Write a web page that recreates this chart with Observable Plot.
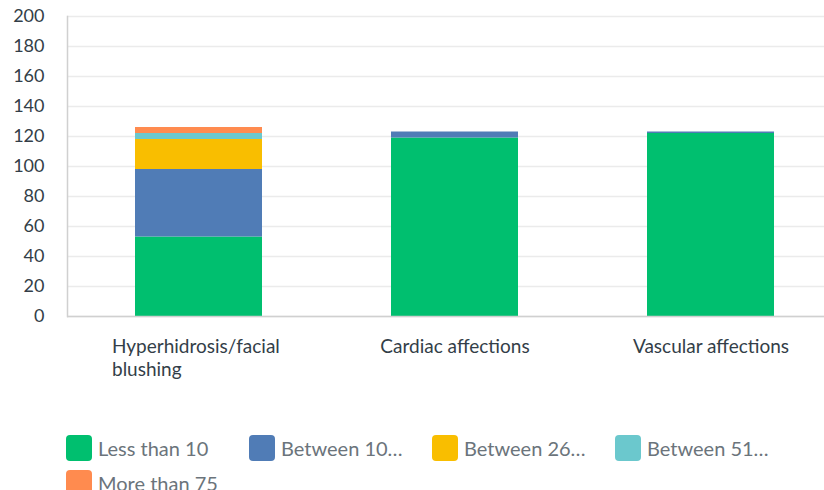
<!DOCTYPE html>
<html>
<head>
<meta charset="utf-8">
<script src="https://cdn.jsdelivr.net/npm/d3@7"></script>
<script src="https://cdn.jsdelivr.net/npm/@observablehq/plot@0.6"></script>
<style>
  html, body { margin: 0; padding: 0; background: #fff; overflow: hidden; }
  body { font-family: Lato, "Open Sans", sans-serif; width: 824px; }
  #legend { margin-top: 35px; padding-left: 66px; display: flex; flex-wrap: wrap; row-gap: 9px; }
  .item { display: flex; align-items: center; width: 183px; height: 26px; font-size: 20px; color: #6b747b; }
  .sw { width: 26px; height: 26px; border-radius: 4px; margin-right: 6px; flex: none; }
</style>
</head>
<body>
<div id="chart"></div>
<div id="legend"></div>
<script>
const categories = ["Hyperhidrosis/facial blushing", "Cardiac affections", "Vascular affections"];
const categoryLabels = ["Hyperhidrosis/facial\nblushing", "Cardiac affections", "Vascular affections"];
const seriesNames = ["Less than 10", "Between 10...", "Between 26...", "Between 51...", "More than 75"];
const seriesColors = ["#00bf6f", "#507cb6", "#f9be00", "#6bc8cd", "#ff8b4f"];
const lessThan10 = [53, 119, 122];
const between10 = [45, 4, 1];
const between26 = [20, 0, 0];
const between51 = [4, 0, 0];
const moreThan75 = [4, 0, 0];
const yTicks = [0, 20, 40, 60, 80, 100, 120, 140, 160, 180, 200];

const seriesValues = [lessThan10, between10, between26, between51, moreThan75];
const rows = [];
seriesNames.forEach((s, si) => categories.forEach((c, ci) => rows.push({category: c, series: s, value: seriesValues[si][ci]})));
const labelRows = categories.map((c, i) => ({category: c, label: categoryLabels[i]}));

const chart = Plot.plot({
  width: 824,
  height: 400,
  marginLeft: 67,
  marginRight: 0,
  marginTop: 16,
  marginBottom: 84,
  style: {fontFamily: "Lato, 'Open Sans', sans-serif", fontSize: "18px", color: "#333e48", background: "#fff", overflow: "visible"},
  x: {domain: categories, range: [70, 839], paddingInner: 0.505, paddingOuter: 0.25, axis: null},
  y: {domain: [0, 200], ticks: yTicks, label: null},
  color: {domain: seriesNames, range: seriesColors},
  marks: [
    Plot.ruleY(yTicks, {stroke: "#ebebeb", strokeWidth: 1.5}),
    Plot.axisY({ticks: yTicks, tickSize: 0, tickPadding: 23, label: null, fontSize: 18, fill: "#333e48"}),
    Plot.barY(rows, {x: "category", y: "value", fill: "series", order: seriesNames}),
    Plot.frame({anchor: "left", stroke: "#d0d0d0", strokeWidth: 1.5}),
    Plot.ruleY([0], {stroke: "#d0d0d0", strokeWidth: 1.5}),
    Plot.text(labelRows.filter(d => d.label.includes("\n")), {x: "category", text: "label", frameAnchor: "bottom", lineAnchor: "top", dy: 21, dx: -87, textAnchor: "start", lineHeight: 1.17, fontSize: 19, fill: "#333e48"}),
    Plot.text(labelRows.filter(d => !d.label.includes("\n")), {x: "category", text: "label", frameAnchor: "bottom", lineAnchor: "top", dy: 21, textAnchor: "middle", lineHeight: 1.17, fontSize: 19, fill: "#333e48"})
  ]
});
document.getElementById("chart").appendChild(chart);

const legend = document.getElementById("legend");
seriesNames.forEach((s, i) => {
  const item = document.createElement("div");
  item.className = "item";
  const sw = document.createElement("span");
  sw.className = "sw";
  sw.style.background = seriesColors[i];
  const t = document.createElement("span");
  t.textContent = s.replace("...", "\u2026");
  item.appendChild(sw);
  item.appendChild(t);
  legend.appendChild(item);
});
</script>
</body>
</html>
